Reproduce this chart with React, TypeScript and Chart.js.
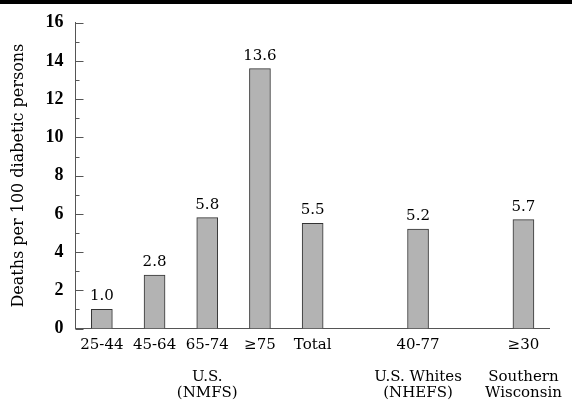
import React, { useEffect, useRef } from "react";
import { Chart, registerables } from "chart.js";

Chart.register(...registerables);

const categories: string[] = ["25-44", "45-64", "65-74", "≥75", "Total", "", "40-77", "", "≥30"];
const values: (number | null)[] = [1.0, 2.8, 5.8, 13.6, 5.5, null, 5.2, null, 5.7];
const groupLabels: (string[] | null)[] = [
  null,
  null,
  ["U.S.", "(NMFS)"],
  null,
  null,
  null,
  ["U.S. Whites", "(NHEFS)"],
  null,
  ["Southern", "Wisconsin"],
];
const yMin = 0;
const yMax = 16;
const yStep = 2;
const yMinorStep = 1;
const yTitle = "Deaths per 100 diabetic persons";

const tickLabels = categories.map((c, i) => {
  const g = groupLabels[i];
  return g ? [c, "", ...g] : c;
});

const AXIS_COLOR = "#555";

const inwardTicks = {
  id: "inwardTicks",
  afterDraw(chart: any) {
    const y = chart.scales.y;
    const ctx = chart.ctx;
    const x0 = chart.chartArea.left;
    ctx.save();
    ctx.strokeStyle = AXIS_COLOR;
    ctx.lineWidth = 1;
    for (let v = yMin; v <= yMax; v += yMinorStep) {
      const py = Math.round(y.getPixelForValue(v)) + 0.5;
      const len = v % yStep === 0 ? 8 : 4;
      ctx.beginPath();
      ctx.moveTo(x0, py);
      ctx.lineTo(x0 + len, py);
      ctx.stroke();
    }
    ctx.restore();
  },
};

const valueLabels = {
  id: "valueLabels",
  afterDatasetsDraw(chart: any) {
    const ctx = chart.ctx;
    const meta = chart.getDatasetMeta(0);
    ctx.save();
    ctx.font = "15px 'DejaVu Serif'";
    ctx.fillStyle = "#000";
    ctx.textAlign = "center";
    ctx.textBaseline = "alphabetic";
    meta.data.forEach((bar: any, i: number) => {
      const v = values[i];
      if (v == null) return;
      ctx.fillText(v.toFixed(1), bar.x, bar.y - 9);
    });
    ctx.restore();
  },
};

export default function App() {
  const ref = useRef<HTMLCanvasElement | null>(null);
  useEffect(() => {
    if (!ref.current) return;
    const chart = new Chart(ref.current, {
      type: "bar",
      data: {
        labels: tickLabels as any,
        datasets: [
          {
            data: values as any,
            backgroundColor: "#b3b3b3",
            borderColor: "#333",
            borderWidth: 1,
            barThickness: 21,
          },
        ],
      },
      options: {
        responsive: false,
        animation: false,
        devicePixelRatio: 1,
        layout: { padding: { top: 22.5, right: 20, left: 0, bottom: 0 } },
        plugins: { legend: { display: false }, tooltip: { enabled: false } },
        scales: {
          x: {
            grid: { display: false, drawTicks: false },
            border: { display: true, color: AXIS_COLOR, width: 1 },
            ticks: {
              autoSkip: false,
              maxRotation: 0,
              minRotation: 0,
              padding: 9,
              color: "#000",
              font: { family: "'DejaVu Serif'", size: 15, lineHeight: "16px" } as any,
            },
            afterFit(scale: any) {
              scale.height = 72.5;
            },
          },
          y: {
            min: yMin,
            max: yMax,
            grid: { display: false, drawTicks: false },
            border: { display: true, color: AXIS_COLOR, width: 1 },
            ticks: {
              stepSize: yStep,
              padding: 12,
              color: "#000",
              font: { family: "'Liberation Serif'", size: 18, weight: "bold" },
            },
            title: {
              display: true,
              text: yTitle,
              color: "#000",
              font: { family: "'DejaVu Serif'", size: 16 },
              padding: { top: 9, bottom: 0 },
            },
            afterFit(scale: any) {
              scale.width = 75.5;
            },
          },
        },
      },
      plugins: [inwardTicks, valueLabels],
    });
    return () => chart.destroy();
  }, []);
  return (
    <div style={{ position: "absolute", left: 0, top: 0, width: 572, height: 401, background: "#fff" }}>
      <canvas ref={ref} width={572} height={401} style={{ display: "block" }} />
      <div style={{ position: "absolute", left: 0, top: 0, width: 572, height: 4, background: "#000" }} />
    </div>
  );
}
